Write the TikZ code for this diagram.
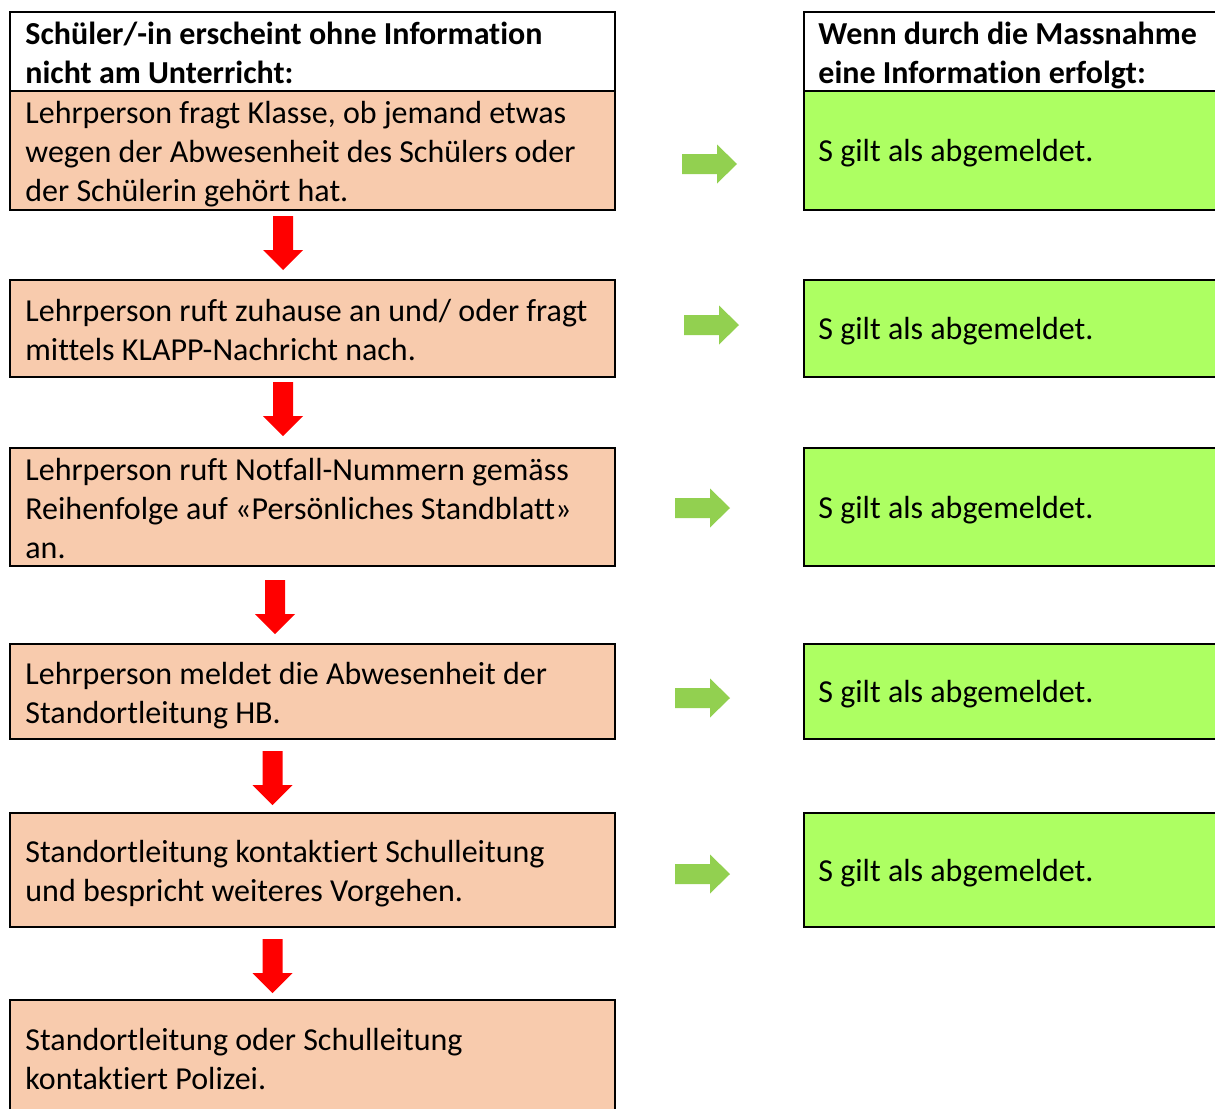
\documentclass[tikz,border=0pt]{standalone}
\usepackage{fontspec}
\setmainfont{Carlito}[Ligatures=NoCommon]
\frenchspacing
\newcommand\tb{\spaceskip=0pt\xspaceskip=0pt\relax\vphantom{Ü}}
\newcommand\te{\vphantom{g}}
\definecolor{boxorange}{RGB}{248,203,173}
\definecolor{boxgreen}{RGB}{173,255,98}
\definecolor{arrgreen}{RGB}{146,208,80}
\definecolor{arrred}{RGB}{255,0,0}
\tikzset{
  lbox/.style={draw=black, line width=1pt, rectangle, minimum width=302.5pt, inner sep=0pt},
  rbox/.style={draw=black, line width=1pt, rectangle, minimum width=213pt, inner sep=0pt},
  txt/.style={anchor=west, inner sep=0pt, align=left, text width=290pt,
    font=\fontsize{16}{19.5}\selectfont},
  headtxt/.style={txt, font=\fontsize{16}{19.5}\selectfont\bfseries},
  headfill/.style={fill=white},
  stepfill/.style={fill=boxorange},
  okfill/.style={fill=boxgreen},
  downarr/.pic={\fill[arrred] (-10,0) -- (10,0) -- (10,34) -- (20,34) -- (0,54) -- (-20,34) -- (-10,34) -- cycle;},
  rightarr/.pic={\fill[arrgreen] (0,-10) -- (35,-10) -- (35,-19.5) -- (55,0) -- (35,19.5) -- (35,10) -- (0,10) -- cycle;},
}
\begin{document}
\begin{tikzpicture}[x=0.5pt, y=-0.5pt]
\clip (0,0) rectangle (1215,1108);
\fill[white] (0,0) rectangle (1215,1108);
% left column boxes
\node[lbox, headfill, minimum height=39.5pt] (hl) at (312.5,51.5) {};
\node[lbox, stepfill, minimum height=59.5pt] (b1) at (312.5,150.5) {};
\node[lbox, stepfill, minimum height=48.5pt] (b2) at (312.5,328.5) {};
\node[lbox, stepfill, minimum height=59pt] (b3) at (312.5,507) {};
\node[lbox, stepfill, minimum height=47.5pt] (b4) at (312.5,691.5) {};
\node[lbox, stepfill, minimum height=57pt] (b5) at (312.5,870) {};
\node[lbox, stepfill, minimum height=58.5pt] (b6) at (312.5,1058.5) {};
% left column texts
\node[headtxt] (hlt) at ([xshift=8pt,yshift=-1.0pt]hl.west) {\tb Schüler/-in erscheint ohne Information\\nicht am Unterricht:\te};
\node[txt] (b1t) at ([xshift=8pt,yshift=-1.2pt]b1.west) {\tb Lehrperson fragt Klasse, ob jemand etwas\\wegen der Abwesenheit des Schülers oder\\der Schülerin gehört hat.\te};
\node[txt] (b2t) at ([xshift=8pt,yshift=-1.2pt]b2.west) {\tb Lehrperson ruft zuhause an und/ oder fragt\\mittels KLAPP-Nachricht nach.\te};
\node[txt] (b3t) at ([xshift=8pt,yshift=-1.2pt]b3.west) {\tb Lehrperson ruft Notfall-Nummern gemäss\\Reihenfolge auf «Persönliches Standblatt»\\an.\te};
\node[txt] (b4t) at ([xshift=8pt,yshift=-1.2pt]b4.west) {\tb Lehrperson meldet die Abwesenheit der\\Standortleitung HB.\te};
\node[txt] (b5t) at ([xshift=8pt,yshift=-0.8pt]b5.west) {\tb Standortleitung kontaktiert Schulleitung\\und bespricht weiteres Vorgehen.\te};
\node[txt] (b6t) at ([xshift=8pt,yshift=-0.8pt]b6.west) {\tb Standortleitung oder Schulleitung\\kontaktiert Polizei.\te};
% right column boxes
\node[rbox, headfill, minimum height=39.5pt] (hr) at (1017,51.5) {};
\node[rbox, okfill, minimum height=59.5pt] (g1) at (1017,150.5) {};
\node[rbox, okfill, minimum height=48.5pt] (g2) at (1017,328.5) {};
\node[rbox, okfill, minimum height=59pt] (g3) at (1017,507) {};
\node[rbox, okfill, minimum height=47.5pt] (g4) at (1017,691.5) {};
\node[rbox, okfill, minimum height=57pt] (g5) at (1017,870) {};
% right column texts
\node[headtxt] (hrt) at ([xshift=7.5pt,yshift=-1.0pt]hr.west) {\tb Wenn durch die Massnahme\\eine Information erfolgt:\te};
\node[txt] (g1t) at ([xshift=7.5pt,yshift=-0.7pt]g1.west) {\tb S gilt als abgemeldet.\te};
\node[txt] (g2t) at ([xshift=7.5pt,yshift=-0.7pt]g2.west) {\tb S gilt als abgemeldet.\te};
\node[txt] (g3t) at ([xshift=7.5pt,yshift=-0.7pt]g3.west) {\tb S gilt als abgemeldet.\te};
\node[txt] (g4t) at ([xshift=7.5pt,yshift=-0.7pt]g4.west) {\tb S gilt als abgemeldet.\te};
\node[txt] (g5t) at ([xshift=7.5pt,yshift=-0.7pt]g5.west) {\tb S gilt als abgemeldet.\te};
% red down arrows
\pic (d1) at (283,216) {downarr};
\pic (d2) at (283,382) {downarr};
\pic (d3) at (275,580) {downarr};
\pic (d4) at (272.5,751) {downarr};
\pic (d5) at (272.5,939) {downarr};
% green right arrows
\pic (r1) at (682,164) {rightarr};
\pic (r2) at (684,325) {rightarr};
\pic (r3) at (675,508) {rightarr};
\pic (r4) at (675,698) {rightarr};
\pic (r5) at (675,874) {rightarr};
\end{tikzpicture}
\end{document}
